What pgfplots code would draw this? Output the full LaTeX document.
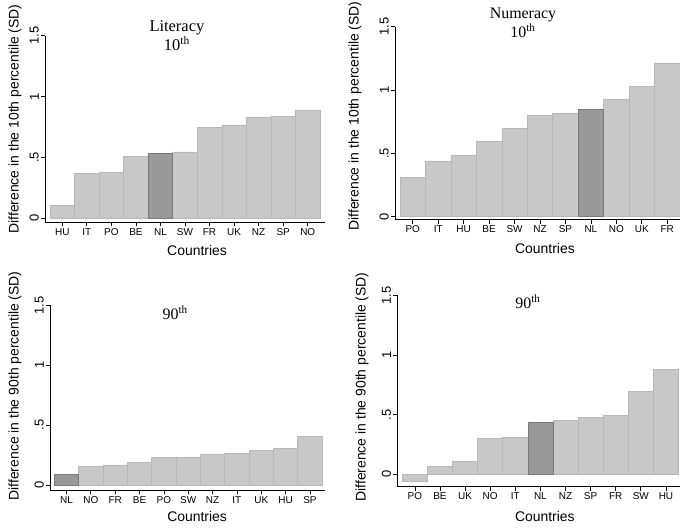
\documentclass[border=0pt]{standalone}
\usepackage{pgfplots}
\pgfplotsset{compat=1.18}
\usepackage{fontspec}
\setmainfont{Liberation Sans}
\newfontfamily\titlefont{Liberation Serif}
\definecolor{barlight}{RGB}{200,200,200}
\definecolor{barlightedge}{RGB}{184,184,184}
\definecolor{bardark}{RGB}{153,153,153}
\definecolor{bardarkedge}{RGB}{122,122,122}
\pgfplotsset{
  stata/.style={
    scale only axis,
    axis x line*=bottom, axis y line*=left,
    axis line style={-, black, line width=0.8bp},
    ybar, bar width=1, bar shift=0pt,
    ymax=1.5,
    ytick={0,0.5,1,1.5}, yticklabels={0,.5,1,1.5},
    xtick={0,...,10},
    tick align=outside, major tick length=4bp,
    tick style={black, line width=0.7bp},
    /pgf/number format/assume math mode=true,
    yticklabel style={rotate=90, anchor=south, font=\fontsize{13}{15}\selectfont, inner sep=2bp},
    xticklabel style={font=\fontsize{10}{12}\selectfont, inner sep=2bp},
    label style={font=\fontsize{14}{16}\selectfont},
    xlabel={Countries},
    clip=false,
  },
  light/.style={fill=barlight, draw=barlightedge, line width=0.6bp},
  dark/.style={fill=bardark, draw=bardarkedge, line width=0.6bp},
}
\begin{document}
\begin{tikzpicture}[x=1bp,y=1bp]
\useasboundingbox (0,0) rectangle (680,529);

% Top-left: Literacy 10th
\begin{axis}[stata, at={(45bp,306.6bp)}, anchor=south west,
  width=280bp, height=186.6bp, xmin=-0.704, xmax=10.704, ymin=-0.036,
  xticklabels={HU,IT,PO,BE,NL,SW,FR,UK,NZ,SP,NO},
  ylabel={Difference in the 10th percentile (SD)},
  ylabel style={at={(axis description cs:-0.107,0.554)}, anchor=center},
  xlabel style={at={(axis description cs:0.543,-0.153)}, anchor=center}]
\addplot[light] coordinates {(0,0.104) (1,0.364) (2,0.373) (3,0.504) (5,0.545) (6,0.748) (7,0.767) (8,0.833) (9,0.838) (10,0.890)};
\addplot[dark] coordinates {(4,0.529)};
\node[font=\titlefont\fontsize{16.5}{19}\selectfont, align=center] at (axis description cs:0.471,1.0) {Literacy\\10\textsuperscript{th}};
\end{axis}

% Top-right: Numeracy 10th
\begin{axis}[stata, at={(395bp,309.2bp)}, anchor=south west,
  width=285bp, height=193bp, xmin=-0.696, xmax=10.5, ymin=-0.026,
  xticklabels={PO,IT,HU,BE,SW,NZ,SP,NL,NO,UK,\raisebox{3bp}{FR}},
  ylabel={Difference in the 10th percentile (SD)},
  ylabel style={at={(axis description cs:-0.140,0.538)}, anchor=center},
  xlabel style={at={(axis description cs:0.526,-0.151)}, anchor=center}]
\addplot[light] coordinates {(0,0.312) (1,0.440) (2,0.482) (3,0.594) (4,0.694) (5,0.804) (6,0.819) (8,0.927) (9,1.026) (10,1.215)};
\addplot[dark] coordinates {(7,0.851)};
\node[font=\titlefont\fontsize{16}{19}\selectfont, align=center] at (axis description cs:0.449,1.02) {Numeracy\\10\textsuperscript{th}};
\end{axis}

% Bottom-left: Literacy 90th
\begin{axis}[stata, at={(50bp,39bp)}, anchor=south west,
  width=275bp, height=184.5bp, xmin=-0.677, xmax=10.62, ymin=-0.042,
  xticklabels={NL,NO,FR,BE,PO,SW,NZ,IT,UK,HU,SP},
  ylabel={Difference in the 90th percentile (SD)},
  ylabel style={at={(axis description cs:-0.127,0.564)}, anchor=center},
  xlabel style={at={(axis description cs:0.535,-0.146)}, anchor=center}]
\addplot[light] coordinates {(1,0.156) (2,0.167) (3,0.189) (4,0.228) (5,0.234) (6,0.259) (7,0.267) (8,0.290) (9,0.306) (10,0.404)};
\addplot[dark] coordinates {(0,0.092)};
\node[font=\titlefont\fontsize{16}{19}\selectfont] at (axis description cs:0.455,0.959) {90\textsuperscript{th}};
\end{axis}

% Bottom-right: Numeracy 90th
\begin{axis}[stata, at={(397.3bp,42.3bp)}, anchor=south west,
  width=282.7bp, height=191.35bp, xmin=-0.7, xmax=10.56, ymin=-0.104,
  xticklabels={PO,BE,UK,NO,IT,NL,NZ,SP,FR,SW,HU},
  ylabel={Difference in the 90th percentile (SD)},
  ylabel style={at={(axis description cs:-0.125,0.521)}, anchor=center},
  xlabel style={at={(axis description cs:0.522,-0.158)}, anchor=center}]
\addplot[light] coordinates {(0,-0.061) (1,0.064) (2,0.106) (3,0.304) (4,0.310) (6,0.453) (7,0.480) (8,0.494) (9,0.696) (10,0.877)};
\addplot[dark] coordinates {(5,0.436)};
\node[font=\titlefont\fontsize{16}{19}\selectfont] at (axis description cs:0.462,0.965) {90\textsuperscript{th}};
\end{axis}
\end{tikzpicture}
\end{document}
